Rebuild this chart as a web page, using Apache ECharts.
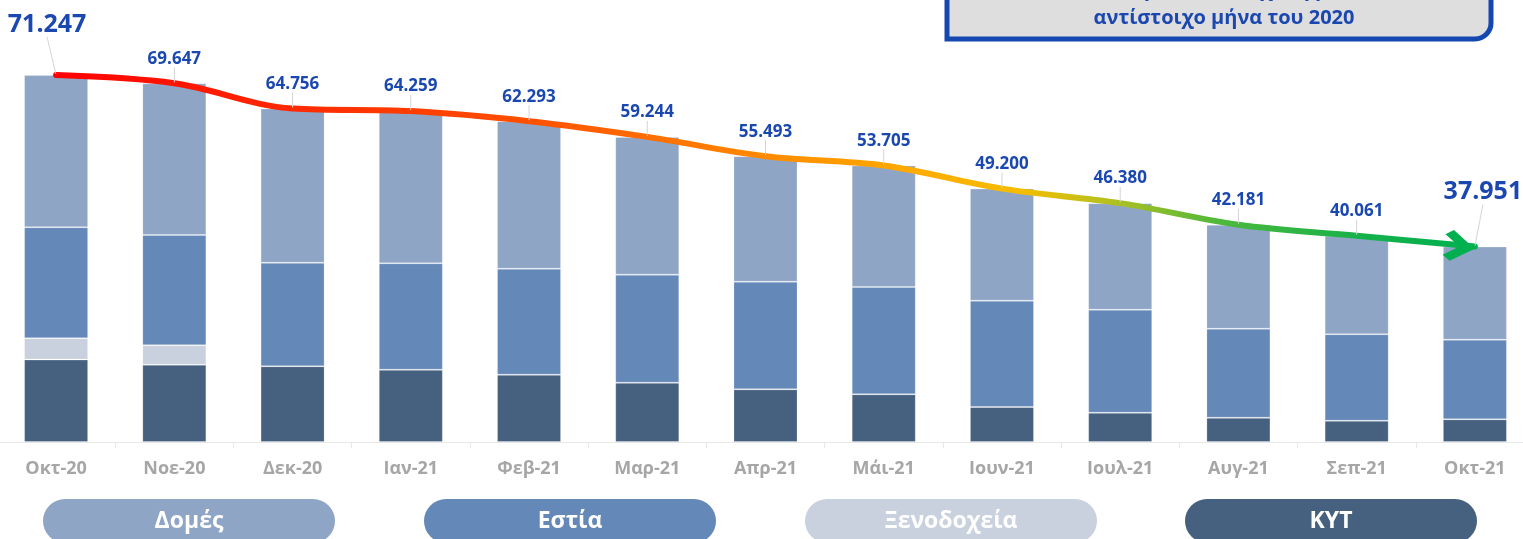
<!DOCTYPE html>
<html>
<head>
    <meta charset="utf-8">
    <style>
        html, body {
            height: 100%;
            margin: 0;
            padding: 0;
            background: #ffffff;
            overflow: hidden;
        }

        /* το γράφημα ξεχειλίζει λίγο αριστερά και δεξιά, όπως στο πρωτότυπο */
        .container {
            width: 1537px;
            height: 539px;
            margin-left: -3px;
        }
    </style>
</head>
<body>
<div id="main" class="container"></div>

<script src="https://cdn.jsdelivr.net/npm/echarts@6/dist/echarts.min.js"></script>
<script type="text/javascript">
// μήνες
var months = ['Οκτ-20', 'Νοε-20', 'Δεκ-20', 'Ιαν-21', 'Φεβ-21', 'Μαρ-21', 'Απρ-21',
    'Μάι-21', 'Ιουν-21', 'Ιουλ-21', 'Αυγ-21', 'Σεπ-21', 'Οκτ-21'];
// σύνολα (γραμμή)
var totals = [71247, 69647, 64756, 64259, 62293, 59244, 55493, 53705, 49200, 46380, 42181, 40061, 37951];
// επιμέρους δομές (στοίβα)
var kyt = [16000, 15000, 14700, 14040, 13070, 11510, 10230, 9260, 6800, 5690, 4720, 4140, 4400];
var xenodocheia = [4150, 3800, 0, 0, 0, 0, 0, 0, 0, 0, 0, 0, 0];
var estia = [21550, 21400, 20100, 20660, 20580, 20970, 20890, 20840, 20640, 20000, 17280, 16780, 15460];
var domes = [29550, 29450, 29960, 29560, 28640, 26760, 24370, 23600, 21760, 20690, 20180, 19140, 18090];

var fontFamily = "'Open Sans', 'DejaVu Sans', sans-serif";
var blue = '#1a47b0';
var colors = {
    'Δομές': '#8fa5c6',
    'Εστία': '#6488b8',
    'Ξενοδοχεία': '#c9d0de',
    'ΚΥΤ': '#46607f'
};

function fmt(v) {
    var s = String(v % 1000);
    while (s.length < 3) s = '0' + s;
    return Math.floor(v / 1000) + '.' + s;
}

function pill(name, left) {
    return {
        left: left,
        top: 494,
        icon: 'none',
        itemWidth: 0,
        itemHeight: 44,
        selectedMode: false,
        data: [name],
        formatter: '{a|{name}}',
        textStyle: {
            rich: {
                a: {
                    width: 292,
                    height: 44,
                    lineHeight: 44,
                    align: 'center',
                    backgroundColor: colors[name],
                    borderRadius: 22,
                    color: '#ffffff',
                    fontSize: 23,
                    fontWeight: 'bold',
                    fontFamily: fontFamily
                }
            }
        }
    };
}

var myChart = echarts.init(document.getElementById('main'), null, {renderer: 'canvas'});

var lineData = totals.map(function (v, i) {
    if (i === 0 || i === totals.length - 1) {
        return {value: v, label: {fontSize: 25}};
    }
    return v;
});

function barSeries(name, data) {
    return {
        name: name,
        type: 'bar',
        stack: 'total',
        barWidth: 64,
        data: data,
        itemStyle: {
            color: colors[name],
            borderColor: 'rgba(255,255,255,0.2)',
            borderWidth: 1
        },
        emphasis: {disabled: true}
    };
}

var option = {
    animation: false,
    title: {
        text: 'Μείωση 46,7% σε σχέση με τον\nαντίστοιχο μήνα του 2020',
        left: 1222,
        top: -29,
        textAlign: 'center',
        z: 10,
        textStyle: {
            color: blue,
            fontSize: 20,
            fontWeight: 'bold',
            lineHeight: 28,
            fontFamily: fontFamily
        }
    },
    graphic: [{
        type: 'rect',
        z: 0,
        shape: {x: 950, y: -30, width: 544, height: 69, r: [0, 0, 16, 0]},
        style: {fill: '#dedede', stroke: '#1547b0', lineWidth: 5}
    }],
    legend: [
        pill('Δομές', 36),
        pill('Εστία', 417),
        pill('Ξενοδοχεία', 798),
        pill('ΚΥΤ', 1178)
    ],
    grid: {
        left: 0,
        right: 0,
        top: 30,
        bottom: 97,
        containLabel: false
    },
    xAxis: {
        type: 'category',
        data: months,
        boundaryGap: true,
        axisLine: {lineStyle: {color: '#e8e8e8', width: 1}},
        axisTick: {show: true, length: 6, lineStyle: {color: '#e8e8e8'}},
        axisLabel: {
            color: '#a6a6a6',
            fontSize: 18,
            fontWeight: 'bold',
            fontFamily: fontFamily,
            margin: 18
        }
    },
    yAxis: {
        type: 'value',
        min: 0,
        max: 80000,
        show: false,
        splitLine: {show: false}
    },
    series: [
        barSeries('ΚΥΤ', kyt),
        barSeries('Ξενοδοχεία', xenodocheia),
        barSeries('Εστία', estia),
        barSeries('Δομές', domes),
        {
            name: 'Σύνολο',
            type: 'line',
            data: lineData,
            smooth: 0.35,
            z: 5,
            symbol: 'circle',
            symbolSize: 2,
            showSymbol: true,
            itemStyle: {color: 'rgba(0,0,0,0)'},
            lineStyle: {
                width: 6,
                cap: 'round',
                color: new echarts.graphic.LinearGradient(0, 0, 1, 0, [
                    {offset: 0, color: '#ff0000'},
                    {offset: 0.17, color: '#ff2a00'},
                    {offset: 0.34, color: '#ff5200'},
                    {offset: 0.5, color: '#ff8a00'},
                    {offset: 0.6, color: '#ffaa00'},
                    {offset: 0.68, color: '#f5bd00'},
                    {offset: 0.74, color: '#b5c020'},
                    {offset: 0.82, color: '#4cb83c'},
                    {offset: 0.92, color: '#14b14a'},
                    {offset: 1, color: '#00b050'}
                ])
            },
            label: {
                show: true,
                position: 'top',
                color: blue,
                fontSize: 17,
                fontWeight: 'bold',
                fontFamily: fontFamily,
                formatter: function (p) {
                    return fmt(p.value);
                }
            },
            labelLine: {
                show: true,
                lineStyle: {color: '#d4d4d4', width: 1}
            },
            labelLayout: function (p) {
                if (p.dataIndex === 0) {
                    return {dx: -9, dy: -32};
                }
                if (p.dataIndex === totals.length - 1) {
                    return {dx: 8, dy: -36};
                }
                return {dy: -10};
            },
            markPoint: {
                silent: true,
                label: {show: false},
                itemStyle: {color: '#00b050'},
                data: [{
                    coord: [months[months.length - 1], totals[totals.length - 1]],
                    symbol: 'path://M0,4 L4,0 L16,12 L4,24 L0,20 L8,12 Z',
                    symbolSize: [31, 31],
                    symbolOffset: ['-50%', 0],
                    symbolRotate: -8
                }]
            },
            emphasis: {disabled: true}
        }
    ]
};

myChart.setOption(option);
</script>
</body>
</html>
